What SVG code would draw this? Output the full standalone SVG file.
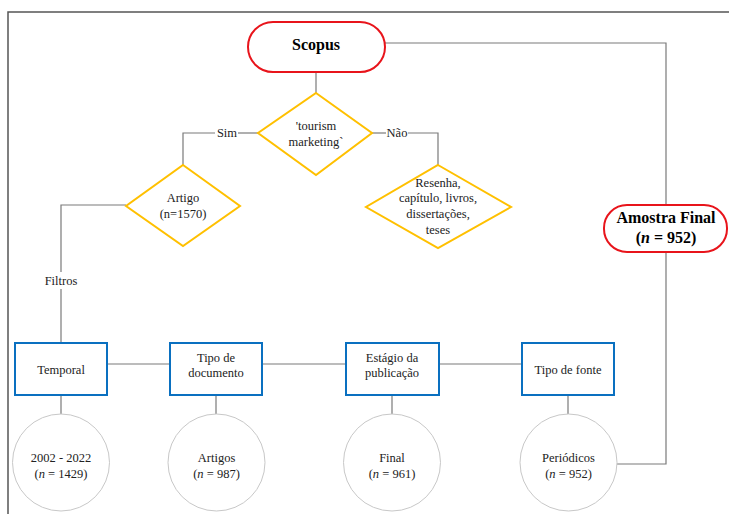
<svg xmlns="http://www.w3.org/2000/svg" width="729" height="514" viewBox="0 0 729 514">
<style>
text{font-family:'Liberation Serif','Times New Roman',Tinos,'DejaVu Serif',serif;font-size:12.5px;fill:#222;text-anchor:middle}
.b{font-weight:bold;font-size:16px;fill:#000}
.c{fill:none;stroke:#7a7a7a;stroke-width:1.2}
.red{fill:#fff;stroke:#e8141b;stroke-width:2}
.dia{fill:#fff;stroke:#ffc000;stroke-width:2}
.box{fill:#fff;stroke:#0a70c0;stroke-width:2}
.cir{fill:#fff;stroke:#c8c8c8;stroke-width:1}
</style>
<rect width="729" height="514" fill="#fff"/>
<path d="M8,514 V12 H729" fill="none" stroke="#555" stroke-width="1.5"/>
<g id="connectors">
<path class="c" d="M385,43 H666 V205"/>
<path class="c" d="M666,252 V464 H617"/>
<path class="c" d="M316,72 V93"/>
<path class="c" d="M258,133 H238"/>
<path class="c" d="M215,133 H183 V165"/>
<path class="c" d="M372,133 H386"/>
<path class="c" d="M408,133 H438 V165"/>
<path class="c" d="M126,205 H61 V272"/>
<path class="c" d="M61,289 V343"/>
<path class="c" d="M107,364 H170"/>
<path class="c" d="M262,364 H346"/>
<path class="c" d="M439,364 H522"/>
<path class="c" d="M61,395 V414"/>
<path class="c" d="M216,395 V414"/>
<path class="c" d="M392,395 V414"/>
<path class="c" d="M568,395 V414"/>
<text x="227" y="137" font-family="Liberation Serif, serif">Sim</text>
<text x="397" y="137" font-family="Liberation Serif, serif">Não</text>
<text x="61" y="285" font-family="Liberation Serif, serif">Filtros</text>
</g>
<g id="scopus">
<rect class="red" x="248" y="22" width="137" height="50" rx="25" ry="25"/>
<text class="b" x="316" y="50">Scopus</text>
</g>
<g id="amostra-final">
<rect class="red" x="604" y="205" width="123" height="47" rx="23" ry="23"/>
<text class="b" x="666" y="223">Amostra Final</text>
<text class="b" x="666" y="243">(<tspan font-style="italic">n</tspan> = 952)</text>
</g>
<g id="tourism-marketing">
<polygon class="dia" points="316,93 372,133 316,175 258,133"/>
<text x="316" y="130">'tourism</text>
<text x="316" y="146">marketing`</text>
</g>
<g id="artigo">
<polygon class="dia" points="183,165 240,206 183,246 126,206"/>
<text x="183" y="202">Artigo</text>
<text x="183" y="218">(n=1570)</text>
</g>
<g id="resenha">
<polygon class="dia" points="438,165 511,207 438,248 366,207"/>
<text x="438" y="187">Resenha,</text>
<text x="438" y="202">capítulo, livros,</text>
<text x="438" y="218">dissertações,</text>
<text x="438" y="234">teses</text>
</g>
<g id="temporal">
<rect class="box" x="15" y="343" width="92" height="52"/>
<text x="61" y="374">Temporal</text>
</g>
<g id="tipo-documento">
<rect class="box" x="170" y="343" width="92" height="52"/>
<text x="216" y="362">Tipo de</text>
<text x="216" y="377">documento</text>
</g>
<g id="estagio">
<rect class="box" x="346" y="343" width="93" height="52"/>
<text x="392" y="362">Estágio da</text>
<text x="392" y="377">publicação</text>
</g>
<g id="tipo-fonte">
<rect class="box" x="522" y="343" width="92" height="52"/>
<text x="568" y="374">Tipo de fonte</text>
</g>
<g id="c-2002">
<circle class="cir" cx="61" cy="462.5" r="48.5"/>
<text x="61" y="462">2002 - 2022</text>
<text x="61" y="478">(<tspan font-style="italic">n</tspan> = 1429)</text>
</g>
<g id="c-artigos">
<circle class="cir" cx="216.5" cy="462.5" r="48.5"/>
<text x="216.5" y="462">Artigos</text>
<text x="216.5" y="478">(<tspan font-style="italic">n</tspan> = 987)</text>
</g>
<g id="c-final">
<circle class="cir" cx="392" cy="462.5" r="48.5"/>
<text x="392" y="462">Final</text>
<text x="392" y="478">(<tspan font-style="italic">n</tspan> = 961)</text>
</g>
<g id="c-periodicos">
<circle class="cir" cx="568.5" cy="462.5" r="48.5"/>
<text x="568.5" y="462">Periódicos</text>
<text x="568.5" y="478">(<tspan font-style="italic">n</tspan> = 952)</text>
</g>
</svg>
